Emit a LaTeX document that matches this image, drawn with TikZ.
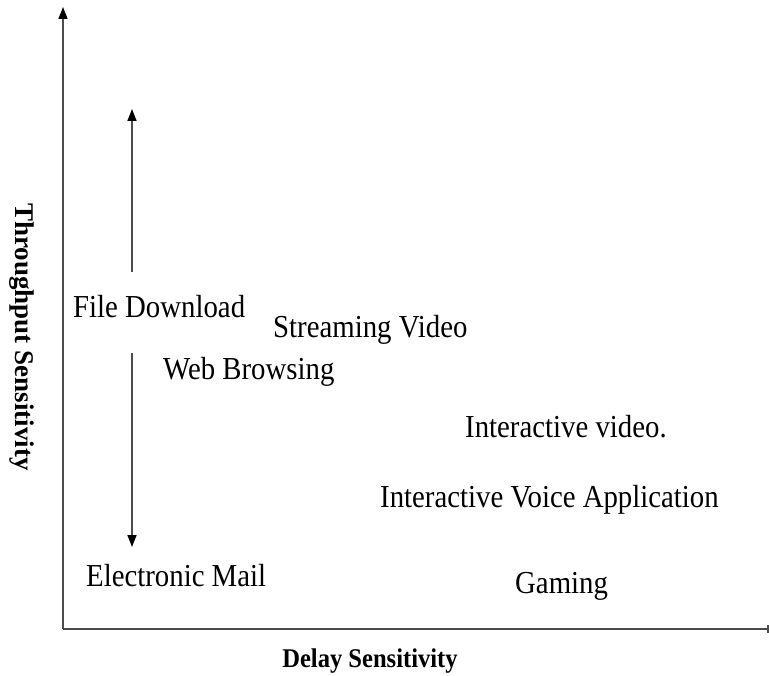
\documentclass[tikz,border=0pt]{standalone}
\usepackage{fontspec}
\setmainfont{Liberation Serif}
\usetikzlibrary{arrows.meta}
\begin{document}
\begin{tikzpicture}[x=1pt,y=-1pt,
  lbl/.style={inner sep=0pt, anchor=base west, font=\fontsize{32}{32}\selectfont, xscale=0.9, transform shape},
  axlbl/.style={inner sep=0pt, font=\fontsize{27}{27}\selectfont\bfseries},
  axis/.style={draw=black!70, line width=1.6pt},
  tip/.style={-{Triangle[width=9pt,length=12pt,black]}}]
\useasboundingbox (0,0) rectangle (769,676);
% axes
\coordinate (O) at (63,629);
\coordinate (Ytop) at (63,7);
\coordinate (Xend) at (768,629);
\draw[axis,tip] (O) -- (Ytop);
\draw[axis] (O) -- (Xend);
\draw[axis] ([yshift=-4pt]Xend) -- ([yshift=4pt]Xend);
% vertical double arrow
\coordinate (A1s) at (132,272);
\coordinate (A1e) at (132,109);
\coordinate (A2s) at (132,353);
\coordinate (A2e) at (132,547);
\draw[axis,tip] (A1s) -- (A1e);
\draw[axis,tip] (A2s) -- (A2e);
% labels
\node[lbl] (fd) at (73,318) {File Download};
\node[lbl] (sv) at (273,338) {Streaming Video};
\node[lbl] (wb) at (163,380) {Web Browsing};
\node[lbl] (iv) at (465,438) {Interactive video.};
\node[lbl] (iva) at (380,507) {Interactive Voice Application};
\node[lbl] (em) at (86,586) {Electronic Mail};
\node[lbl] (gm) at (515,593) {Gaming};
\node[axlbl, xscale=0.91, transform shape] (xl) at (370,661) {Delay Sensitivity};
\node[axlbl, rotate=-90] (yl) at (22,337) {Throughput Sensitivity};
\end{tikzpicture}
\end{document}
